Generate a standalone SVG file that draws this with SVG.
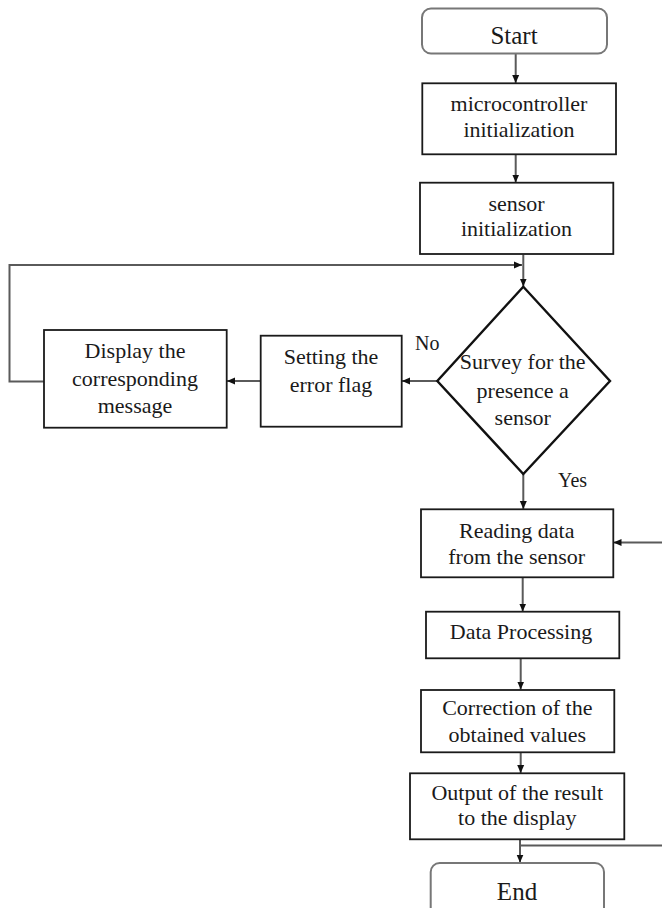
<svg xmlns="http://www.w3.org/2000/svg" width="662" height="908" viewBox="0 0 662 908">
<style>
  .box { fill: #ffffff; stroke: #1a1a1a; stroke-width: 1.8; }
  .term { fill: #ffffff; stroke: #777777; stroke-width: 2; }
  .dia { fill: #ffffff; stroke: #111111; stroke-width: 2.4; }
  .t { font-family: "Liberation Serif", "Times New Roman", serif; font-size: 22px; fill: #1a1a1a; text-anchor: middle; }
  .tl { font-family: "Liberation Serif", "Times New Roman", serif; font-size: 25px; fill: #1a1a1a; text-anchor: middle; }
  .lab { font-family: "Liberation Serif", "Times New Roman", serif; font-size: 20px; fill: #1a1a1a; }
  .c { fill: none; stroke: #5a5a5a; stroke-width: 2; }
</style>
<defs>
  <marker id="ah" markerUnits="userSpaceOnUse" markerWidth="8" markerHeight="8" viewBox="0 0 8 8" refX="8" refY="4" orient="auto">
    <path d="M0,0.5 L8,4 L0,7.5 Z" fill="#111111"/>
  </marker>
</defs>

<g id="connectors">
  <line class="c" x1="515.7" y1="53.5" x2="515.7" y2="83" marker-end="url(#ah)"/>
  <line class="c" x1="515.7" y1="154.5" x2="515.7" y2="182.5" marker-end="url(#ah)"/>
  <line class="c" x1="523.3" y1="254.5" x2="523.3" y2="286.5" marker-end="url(#ah)"/>
  <polyline class="c" points="44,381.5 9.5,381.5 9.5,265 522,265" marker-end="url(#ah)"/>
  <line class="c" x1="437.3" y1="381" x2="402" y2="381" marker-end="url(#ah)"/>
  <line class="c" x1="260.7" y1="381" x2="227" y2="381" marker-end="url(#ah)"/>
  <line class="c" x1="523.3" y1="474" x2="523.3" y2="509" marker-end="url(#ah)"/>
  <line class="c" x1="662" y1="542.5" x2="613.5" y2="542.5" marker-end="url(#ah)"/>
  <line class="c" x1="522.7" y1="577.5" x2="522.7" y2="611.5" marker-end="url(#ah)"/>
  <line class="c" x1="520.7" y1="658.5" x2="520.7" y2="689.5" marker-end="url(#ah)"/>
  <line class="c" x1="520.7" y1="752.5" x2="520.7" y2="773" marker-end="url(#ah)"/>
  <line class="c" x1="520" y1="839.5" x2="520" y2="862.5" marker-end="url(#ah)"/>
  <line class="c" x1="520" y1="845.5" x2="662" y2="845.5"/>
  <text class="lab" x="415" y="350">No</text>
  <text class="lab" x="558" y="487">Yes</text>
</g>

<g id="start">
  <rect class="term" x="422" y="8.5" width="185" height="45" rx="9"/>
  <text class="tl" x="514" y="44">Start</text>
</g>

<g id="mcu-init">
  <rect class="box" x="422.3" y="83.3" width="193.7" height="71"/>
  <text class="t" x="519" y="110.5">microcontroller</text>
  <text class="t" x="519" y="137">initialization</text>
</g>

<g id="sensor-init">
  <rect class="box" x="420" y="182.7" width="193.3" height="71.3"/>
  <text class="t" x="516.5" y="211">sensor</text>
  <text class="t" x="516.5" y="236">initialization</text>
</g>

<g id="survey">
  <polygon class="dia" points="523.3,286.7 610,381 523.3,474 437.3,381"/>
  <text class="t" x="522.7" y="368.5">Survey for the</text>
  <text class="t" x="522.7" y="397.5">presence a</text>
  <text class="t" x="522.7" y="425">sensor</text>
</g>

<g id="error-flag">
  <rect class="box" x="260.7" y="335.7" width="141" height="91"/>
  <text class="t" x="331" y="363.5">Setting the</text>
  <text class="t" x="331" y="391.5">error flag</text>
</g>

<g id="display-msg">
  <rect class="box" x="44" y="330" width="182.7" height="97.7"/>
  <text class="t" x="135" y="357.5">Display the</text>
  <text class="t" x="135" y="386">corresponding</text>
  <text class="t" x="135" y="413">message</text>
</g>

<g id="reading">
  <rect class="box" x="421" y="509.3" width="192.3" height="68"/>
  <text class="t" x="516.7" y="538">Reading data</text>
  <text class="t" x="516.7" y="564">from the sensor</text>
</g>

<g id="processing">
  <rect class="box" x="426" y="611.7" width="193.3" height="46.6"/>
  <text class="t" x="521" y="638.5">Data Processing</text>
</g>

<g id="correction">
  <rect class="box" x="421" y="690" width="193.3" height="62.3"/>
  <text class="t" x="517.3" y="715">Correction of the</text>
  <text class="t" x="517.3" y="741.5">obtained values</text>
</g>

<g id="output">
  <rect class="box" x="410" y="773.3" width="214.3" height="66"/>
  <text class="t" x="517.3" y="800">Output of the result</text>
  <text class="t" x="517.3" y="824.5">to the display</text>
</g>

<g id="end">
  <rect class="term" x="430.7" y="863" width="173.3" height="55" rx="9"/>
  <text class="tl" x="517" y="900">End</text>
</g>
</svg>
